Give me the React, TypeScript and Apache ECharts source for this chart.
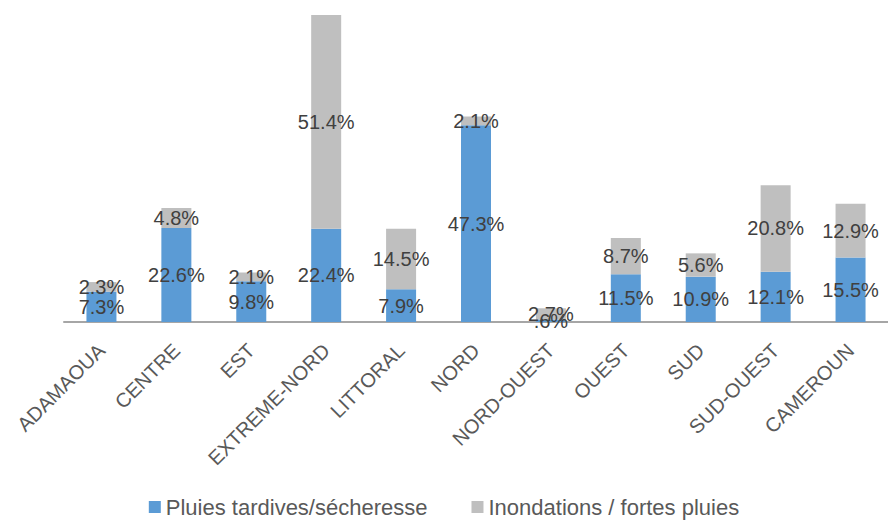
import React, { useEffect, useRef } from "react";
import * as echarts from "echarts";

const categories = ["ADAMAOUA", "CENTRE", "EST", "EXTREME-NORD", "LITTORAL", "NORD", "NORD-OUEST", "OUEST", "SUD", "SUD-OUEST", "CAMEROUN"];
const secheresse = [7.3, 22.6, 9.8, 22.4, 7.9, 47.3, 0.6, 11.5, 10.9, 12.1, 15.5];
const inondations = [2.3, 4.8, 2.1, 51.4, 14.5, 2.1, 2.7, 8.7, 5.6, 20.8, 12.9];
const seriesNames = ["Pluies tardives/sécheresse", "Inondations / fortes pluies"];

const FONT = "Liberation Sans, Arial, sans-serif";

const fmt = (v: number) => {
  let s = v.toFixed(1);
  if (s.startsWith("0")) s = s.slice(1);
  return s + "%";
};

export default function App() {
  const ref = useRef<HTMLDivElement>(null);
  useEffect(() => {
    if (!ref.current) return;
    const chart = echarts.init(ref.current, undefined, { renderer: "svg" });
    const label = {
      show: true,
      position: "inside" as const,
      color: "#404040",
      fontSize: 20,
      fontFamily: FONT,
      formatter: (p: any) => fmt(p.value),
    };
    chart.setOption({
      animation: false,
      textStyle: { fontFamily: FONT },
      grid: { left: 64, right: 0, top: 15, bottom: 201, containLabel: false },
      legend: {
        bottom: 0,
        left: "center",
        itemWidth: 12,
        itemHeight: 12,
        itemGap: 44,
        icon: "rect",
        textStyle: { fontSize: 22, color: "#595959", fontFamily: FONT },
        data: seriesNames,
      },
      xAxis: {
        type: "category",
        data: categories,
        axisLine: { lineStyle: { color: "#a6a6a6", width: 2 } },
        axisTick: { show: false },
        axisLabel: { rotate: 45, fontSize: 20, color: "#595959", fontFamily: FONT, margin: 25, interval: 0 },
      },
      yAxis: {
        type: "value",
        min: 0,
        max: 73.8,
        show: false,
        splitLine: { show: false },
      },
      series: [
        {
          name: seriesNames[0],
          type: "bar",
          stack: "a",
          data: secheresse,
          barWidth: 30,
          itemStyle: { color: "#5b9bd5" },
          label,
        },
        {
          name: seriesNames[1],
          type: "bar",
          stack: "a",
          data: inondations,
          barWidth: 30,
          itemStyle: { color: "#bfbfbf" },
          label,
        },
      ],
    });
    return () => chart.dispose();
  }, []);
  return <div ref={ref} style={{ position: "absolute", left: 0, top: 0, width: 888, height: 523 }} />;
}
